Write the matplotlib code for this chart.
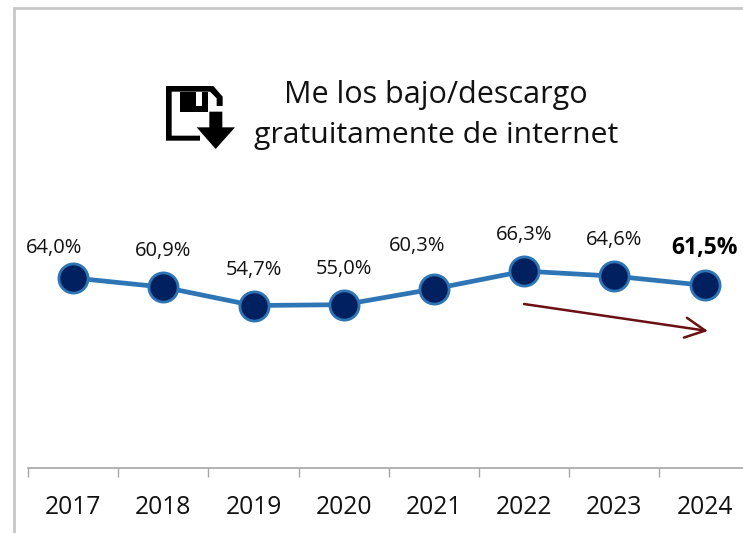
"""Línea de descargas gratuitas de internet, 2017-2024."""
import matplotlib
matplotlib.use("Agg")
import matplotlib.pyplot as plt
from matplotlib.patches import Polygon

W, H = 743, 533

years = ["2017", "2018", "2019", "2020", "2021", "2022", "2023", "2024"]
values = [64.0, 60.9, 54.7, 55.0, 60.3, 66.3, 64.6, 61.5]
labels = ["64,0%", "60,9%", "54,7%", "55,0%", "60,3%", "66,3%", "64,6%", "61,5%"]
# desplazamiento de cada etiqueta respecto a su punto, en píxeles
label_dx = [-19, 0, 0, 0, -17, 0, 0, 0]
label_dy = [30, 36, 36, 36, 43, 36, 36, 37]

LINE_COLOR = "#2e75b6"
MARKER_COLOR = "#002060"
ARROW_COLOR = "#6b0f14"
BORDER_COLOR = "#c8c8c8"
AXIS_COLOR = "#a6a6a6"
TEXT_COLOR = "#111111"

plt.rcParams["font.family"] = ["Open Sans", "DejaVu Sans"]

fig = plt.figure(figsize=(W / 100, H / 100), dpi=100, facecolor="white")

# ── capa en píxeles para marco, título e icono ──
bg = fig.add_axes([0, 0, 1, 1])
bg.set_xlim(0, W)
bg.set_ylim(H, 0)
bg.axis("off")
bg.plot([14, 14, W], [H, 8, 8], color=BORDER_COLOR, lw=2, solid_joinstyle="miter")
bg.text(436, 95, "Me los bajo/descargo", ha="center", va="center", fontsize=22, color=TEXT_COLOR)
bg.text(436, 135, "gratuitamente de internet", ha="center", va="center", fontsize=21.7, color=TEXT_COLOR)


def _icon(points, color="black"):
    """Polígono del icono, con coordenadas del recorte ampliado 3x."""
    pts = [(150 + x / 3, 70 + y / 3) for x, y in points]
    bg.add_patch(Polygon(pts, closed=True, facecolor=color, edgecolor="none"))


_icon([(48, 48), (190, 48), (218, 80), (218, 108), (200, 108), (200, 85), (180, 65),
       (65, 65), (65, 197), (150, 197), (150, 212), (48, 212)])
_icon([(90, 65), (175, 65), (175, 125), (90, 125)])
_icon([(137, 65), (155, 65), (155, 108), (137, 108)], "white")
_icon([(178, 125), (217, 125), (217, 172), (255, 172), (197, 237), (140, 172), (178, 172)])

# flecha de tendencia
bg.annotate("", xy=(708, 331), xytext=(524, 304),
            arrowprops=dict(arrowstyle="->,head_length=0.72,head_width=0.36",
                            mutation_scale=20, color=ARROW_COLOR, lw=1.8,
                            shrinkA=0, shrinkB=0))

# ── gráfico: el eje se sale por la derecha como en el original ──
x0, x1, y_base, y_top = 28, 28 + 8 * 90.2, 468, 20
ax = fig.add_axes([x0 / W, 1 - y_base / H, (x1 - x0) / W, (y_base - y_top) / H])
ax.patch.set_alpha(0)
ax.set_xlim(-0.5, 7.5)
ax.set_ylim(0, (y_base - y_top) / 2.97)

xs = range(len(years))
ax.plot(xs, values, color=LINE_COLOR, lw=3.4, marker="o", ms=21,
        mfc=MARKER_COLOR, mec=LINE_COLOR, mew=2, clip_on=False, zorder=3)

for i, (v, lab) in enumerate(zip(values, labels)):
    last = i == len(values) - 1
    ax.annotate(lab, (i, v), xytext=(label_dx[i], label_dy[i]),
                textcoords="offset pixels", ha="center", va="center",
                fontsize=16.5 if last else 14.5, fontweight="bold" if last else "normal",
                color="black" if last else TEXT_COLOR)

for side in ("top", "right", "left"):
    ax.spines[side].set_visible(False)
ax.spines["bottom"].set_color(AXIS_COLOR)
ax.spines["bottom"].set_linewidth(1.2)
ax.set_yticks([])
ax.set_xticks([i - 0.5 for i in range(len(years) + 1)])
ax.set_xticklabels([])
ax.tick_params(axis="x", length=6.5, width=1, color=AXIS_COLOR, direction="out")
for i, y in enumerate(years):
    ax.annotate(y, (i, 0), xytext=(0, -40), textcoords="offset pixels",
                ha="center", va="center", fontsize=17.7, color=TEXT_COLOR)

fig.savefig("out.png", dpi=100, facecolor="white")
